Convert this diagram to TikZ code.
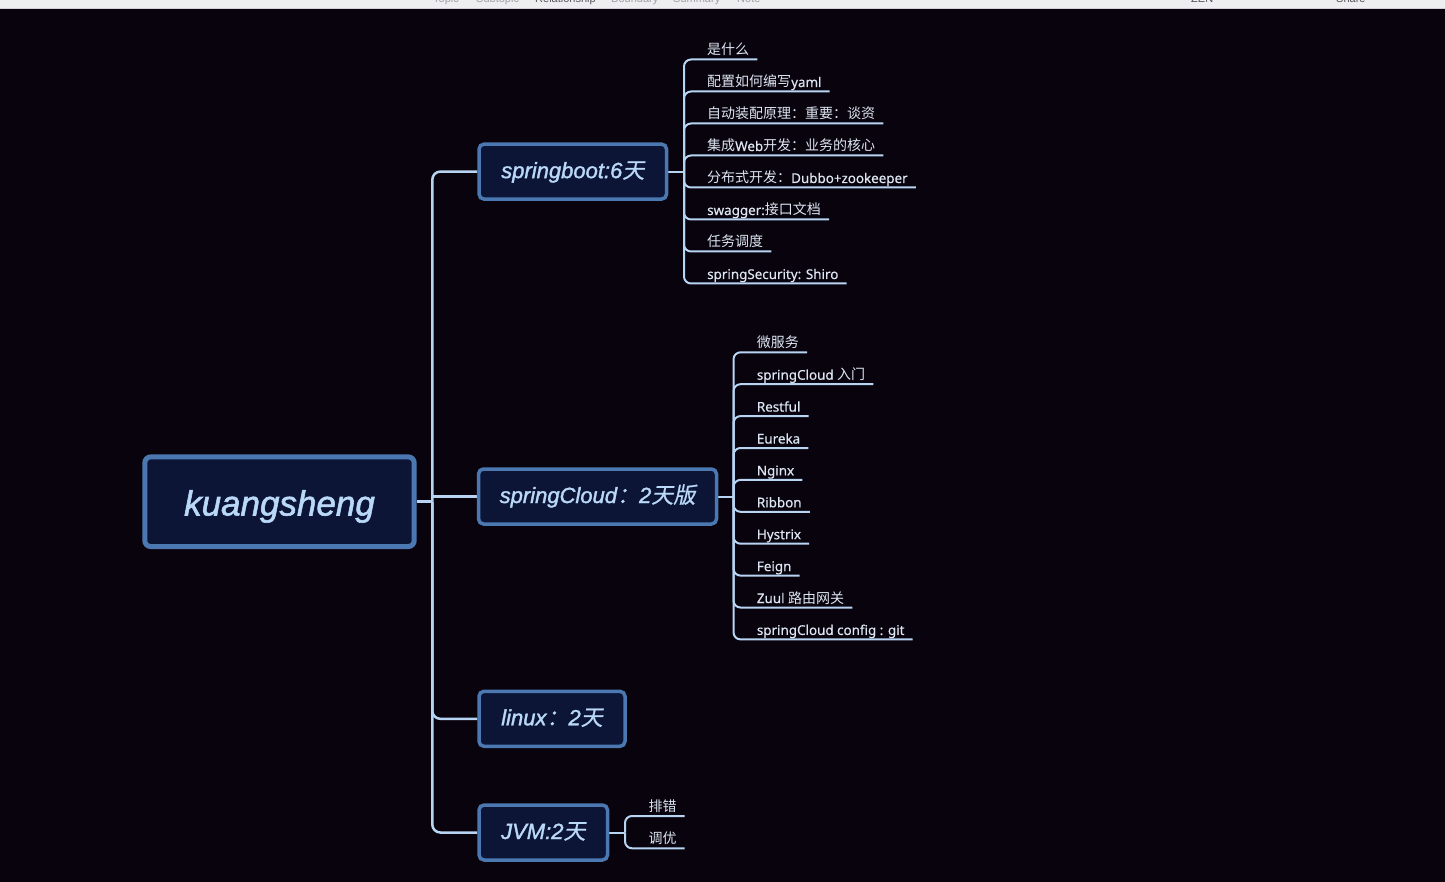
\documentclass[tikz,border=0pt]{standalone}
\usepackage{fontspec}
\setmainfont{Noto Sans}[FakeBold=0.4]
\newfontfamily\cjk{Noto Sans CJK SC}
\newfontfamily\topicfont[FakeBold=1.6]{Liberation Sans Italic}
\newfontfamily\cjkit[FakeSlant=0.2,FakeBold=0.8]{Noto Sans CJK SC}
\newfontfamily\barfont{Liberation Sans}
\newcommand\zhtxt[1]{{\cjk\fontsize{14}{17}\selectfont #1}}
\usetikzlibrary{calc}
\definecolor{bgc}{HTML}{09030D}
\definecolor{barbg}{HTML}{EEEEF0}
\definecolor{barline}{HTML}{CFCFD4}
\definecolor{bartxt}{HTML}{A0A0A6}
\definecolor{bartxtdark}{HTML}{55555C}
\definecolor{nodefill}{HTML}{0C1536}
\definecolor{nodeborder}{HTML}{4B78B1}
\definecolor{topictext}{HTML}{BAD8F8}
\definecolor{connc}{HTML}{B7D4F3}
\definecolor{leaftext}{HTML}{DCE6F2}
\pgfdeclarelayer{back}
\pgfdeclarelayer{conn}
\pgfsetlayers{back,conn,main}
\begin{document}
\begin{tikzpicture}[x=1pt,y=-1pt,
  rootnode/.style={draw=nodeborder, line width=5pt, fill=nodefill, rounded corners=6pt,
    inner sep=0pt, minimum width=269.4pt, minimum height=89.7pt, text=topictext,
    font=\topicfont\fontsize{35}{40}\selectfont, text height=29pt, text depth=1.4pt},
  topic/.style={draw=nodeborder, line width=3.5pt, fill=nodefill, rounded corners=5pt,
    inner sep=0pt, minimum height=55pt, text=topictext,
    font=\topicfont\fontsize{22}{26}\selectfont, text height=16pt, text depth=3pt},
  leaf/.style={font=\fontsize{13.4}{17}\selectfont, text=leaftext, inner sep=0pt, anchor=base west},
  mainconn/.style={draw=connc, line width=2.5pt, rounded corners=8pt},
  leafconn/.style={draw=connc, line width=2pt, rounded corners=7pt},
  bartext/.style={font=\barfont\fontsize{11}{13}\selectfont, text=bartxt, inner sep=0pt, anchor=base west}
]
\useasboundingbox (0,0) rectangle (1445,882);
\begin{pgfonlayer}{back}
\fill[bgc] (0,0) rectangle (1445,882);
\fill[barbg] (0,0) rectangle (1445,8);
\draw[barline, line width=1pt] (0,8.5) -- (1445,8.5);
\begin{scope}
\clip (0,0) rectangle (1445,8);
\node[bartext] (b1) at (433,2.5) {Topic};
\node[bartext] (b2) at (476,2.5) {Subtopic};
\node[bartext, text=bartxtdark] (b3) at (535,2.5) {Relationship};
\node[bartext] (b4) at (611,2.5) {Boundary};
\node[bartext] (b5) at (673,2.5) {Summary};
\node[bartext] (b6) at (737,2.5) {Note};
\node[bartext, text=bartxtdark] (b7) at (1191,2.5) {ZEN};
\node[bartext, text=bartxtdark] (b8) at (1336,2.5) {Share};
\end{scope}
\end{pgfonlayer}

% main nodes
\node[rootnode] (root) at (279.5,501.7) {kuangsheng};
\node[topic, minimum width=187.5pt] (sb) at (572.8,171.6) {springboot:6{\cjkit 天}};
\node[topic, minimum width=238pt] (sc) at (597.5,496.5) {springCloud{\cjkit ：}2{\cjkit 天版}};
\node[topic, minimum width=146pt] (lx) at (552,718.8) {linux{\cjkit ：}2{\cjkit 天}};
\node[topic, minimum width=128.5pt] (jvm) at (543.3,832.5) {JVM:2{\cjkit 天}};

\coordinate (rj) at (432.3,501.7);
\coordinate (sbj) at (684,171.6);
\coordinate (scj) at (733.5,496.5);
\coordinate (jj) at (625,832.5);

\begin{pgfonlayer}{conn}
\draw[mainconn] (root.east) -- (rj);
\draw[mainconn] (rj) |- (sb.west);
\draw[mainconn] (rj |- sc.west) -- (sc.west);
\draw[mainconn] (rj) |- (lx.west);
\draw[mainconn] (rj) |- (jvm.west);
\draw[leafconn] (sb.east) -- (sbj);
\draw[leafconn] (sc.east) -- (scj);
\draw[leafconn] (jvm.east) -- (jj);
\end{pgfonlayer}

% springboot leaves
\foreach \txt [count=\i from 0] in {
  {\zhtxt{是什么}},
  {\zhtxt{配置如何编写}yaml},
  {\zhtxt{自动装配原理：重要：谈资}},
  {\zhtxt{集成}Web\zhtxt{开发：业务的核心}},
  {\zhtxt{分布式开发：}Dubbo+zookeeper},
  {swagger:\zhtxt{接口文档}},
  {\zhtxt{任务调度}},
  {springSecurity: Shiro}} {
  \node[leaf] (sbl\i) at (707,55+32*\i) {\txt};
  \begin{pgfonlayer}{conn}
  \draw[leafconn] (sbj) |- ($(sbl\i.base east)+(8,4.5)$);
  \end{pgfonlayer}
}

% springCloud leaves
\foreach \txt [count=\i from 0] in {
  {\zhtxt{微服务}},
  {springCloud \zhtxt{入门}},
  {Restful},
  {Eureka},
  {Nginx},
  {Ribbon},
  {Hystrix},
  {Feign},
  {Zuul \zhtxt{路由网关}},
  {springCloud config : git}} {
  \node[leaf] (scl\i) at (756.7,347.8+31.9*\i) {\txt};
  \begin{pgfonlayer}{conn}
  \draw[leafconn] (scj) |- ($(scl\i.base east)+(8,4.5)$);
  \end{pgfonlayer}
}

% JVM leaves
\node[leaf] (jl0) at (648.3,811.5) {\zhtxt{排错}};
\node[leaf] (jl1) at (648.3,843.8) {\zhtxt{调优}};
\begin{pgfonlayer}{conn}
\draw[leafconn] (jj) |- ($(jl0.base east)+(8,4.5)$);
\draw[leafconn] (jj) |- ($(jl1.base east)+(8,4.5)$);
\end{pgfonlayer}
\end{tikzpicture}
\end{document}
